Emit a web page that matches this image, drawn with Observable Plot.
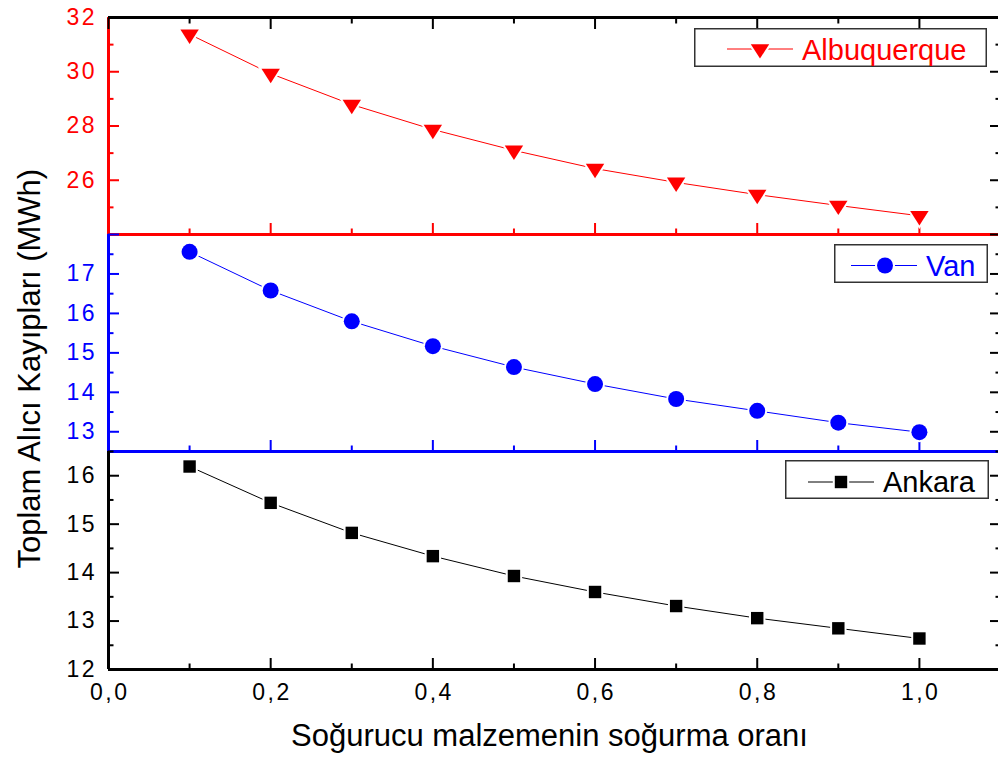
<!DOCTYPE html>
<html>
<head>
<meta charset="utf-8">
<script src="https://cdn.jsdelivr.net/npm/d3@7"></script>
<script src="https://cdn.jsdelivr.net/npm/@observablehq/plot@0.6"></script>
<style>
  html, body { margin: 0; padding: 0; background: #fff; }
  #chart { position: relative; width: 998px; height: 769px; font-family: "Liberation Sans", Arial, sans-serif; }
  #chart svg { position: absolute; left: 0; top: 0; overflow: visible; }
  /* slightly wider tick numerals */
  #chart g[aria-label="y-axis tick label"] text,
  #chart g[aria-label="x-axis tick label"] text { letter-spacing: 2.5px; }
</style>
</head>
<body>
<div id="chart"></div>
<script>
// Absorber absorption ratio (x) and total receiver losses in MWh per site
const ratio = [0.1, 0.2, 0.3, 0.4, 0.5, 0.6, 0.7, 0.8, 0.9, 1.0];
const albuquerque = [31.38, 29.93, 28.79, 27.87, 27.10, 26.43, 25.92, 25.47, 25.07, 24.69];
const van = [17.56, 16.58, 15.80, 15.17, 14.64, 14.21, 13.83, 13.53, 13.23, 12.99];
const ankara = [16.19, 15.44, 14.82, 14.34, 13.93, 13.60, 13.31, 13.06, 12.85, 12.64];

// Tick values
const xMajorTicks = [0, 0.2, 0.4, 0.6, 0.8, 1.0];
const xMinorTicks = [0.1, 0.3, 0.5, 0.7, 0.9];
const albuquerqueMajor = [24, 26, 28, 30, 32];
const albuquerqueLabels = [26, 28, 30, 32];
const albuquerqueMinor = [25, 27, 29, 31];
const vanMajor = [13, 14, 15, 16, 17, 18];
const vanLabels = [13, 14, 15, 16, 17];
const vanMinor = [12.5, 13.5, 14.5, 15.5, 16.5, 17.5];
const ankaraMajor = [12, 13, 14, 15, 16];
const ankaraLabels = [12, 13, 14, 15, 16];
const ankaraMinor = [12.5, 13.5, 14.5, 15.5, 16.5];

const xTitle = "Soğurucu malzemenin soğurma oranı";
const yTitle = "Toplam Alıcı Kayıpları (MWh)";

const W = 998, H = 769;
const FONT = '"Liberation Sans", Arial, sans-serif';

// Downward-pointing triangle, centred on its centroid
const triangleDown = {
  draw(context, size) {
    const r = Math.sqrt(size / Math.PI);
    const w = r * 1.15, h = r * 1.8;
    context.moveTo(-w, -h / 3);
    context.lineTo(w, -h / 3);
    context.lineTo(0, (2 * h) / 3);
    context.closePath();
  }
};

const panels = [
  {name: "Albuquerque", values: albuquerque, color: "#ff0000", domain: [24, 32], top: 17, bottom: 234,
   major: albuquerqueMajor, labels: albuquerqueLabels, minor: albuquerqueMinor,
   symbol: triangleDown, r: 8, topEdge: true,
   legend: {x: 694, y: 28, w: 293, h: 39, lineY: 21, seg: [33, 99], mark: 66, text: 108, base: 31.5}},
  {name: "Van", values: van, color: "#0000ff", domain: [12.5, 18], top: 234, bottom: 451,
   major: vanMajor, labels: vanLabels, minor: vanMinor,
   symbol: "circle", r: 8,
   legend: {x: 834, y: 244, w: 154, h: 39, lineY: 21.5, seg: [17, 83], mark: 51, text: 92, base: 32}},
  {name: "Ankara", values: ankara, color: "#000000", domain: [12, 16.5], top: 451, bottom: 669,
   major: ankaraMajor, labels: ankaraLabels, minor: ankaraMinor,
   symbol: "square", r: 7, xLabels: true,
   legend: {x: 785, y: 460, w: 204, h: 39, lineY: 22, seg: [23, 89], mark: 56, text: 98, base: 32}}
];

const commaFormat = d => d.toFixed(1).replace(".", ",");
const blank = () => "";
const chart = document.getElementById("chart");

function drawPanel(p) {
  const data = ratio.map((x, i) => ({x, v: p.values[i]}));
  const tickStyle = {label: null, strokeWidth: 2, tickFormat: blank};
  const marks = [
    // inward ticks along the lower edge
    Plot.axisX(xMajorTicks, {...tickStyle, anchor: "bottom", tickSize: -11, color: p.color}),
    Plot.axisX(xMinorTicks, {...tickStyle, anchor: "bottom", tickSize: -5.5, color: p.color}),
    // inward ticks along the left edge
    Plot.axisY(p.major, {...tickStyle, anchor: "left", tickSize: -11, color: p.color}),
    Plot.axisY(p.minor, {...tickStyle, anchor: "left", tickSize: -5.5, color: p.color}),
    Plot.axisY(p.labels, {anchor: "left", label: null, tickSize: 0, tickPadding: 11.5, fontSize: 23, color: p.color}),
    // inward ticks along the right edge
    Plot.axisY(p.major, {...tickStyle, anchor: "right", tickSize: -11, color: "black"}),
    Plot.axisY(p.minor, {...tickStyle, anchor: "right", tickSize: -5.5, color: "black"}),
    // axis lines
    Plot.ruleX([0], {stroke: p.color, strokeWidth: 3}),
    Plot.ruleY([p.domain[0]], {stroke: p.color, strokeWidth: 3})
  ];
  if (p.topEdge) {
    marks.push(
      Plot.ruleY([p.domain[1]], {stroke: "black", strokeWidth: 3}),
      Plot.axisX(xMajorTicks, {...tickStyle, anchor: "top", tickSize: -11, color: "black"}),
      Plot.axisX(xMinorTicks, {...tickStyle, anchor: "top", tickSize: -5.5, color: "black"})
    );
  }
  if (p.xLabels) {
    marks.push(Plot.axisX(xMajorTicks, {anchor: "bottom", label: null, tickSize: 0, tickPadding: 14, dx: 1.25, fontSize: 23, tickFormat: commaFormat}));
  }
  marks.push(
    Plot.line(data, {x: "x", y: "v", stroke: p.color, strokeWidth: 1}),
    Plot.dot(data, {x: "x", y: "v", symbol: p.symbol, r: p.r, fill: p.color, stroke: "white", strokeWidth: 4, paintOrder: "stroke"})
  );
  const svg = Plot.plot({
    width: W, height: H,
    marginLeft: 108, marginRight: -2, marginTop: p.top, marginBottom: H - p.bottom,
    x: {domain: [0, 1.1]},
    y: {domain: p.domain},
    style: {background: "transparent", overflow: "visible", fontFamily: FONT, fontSize: "23px"},
    marks
  });
  chart.appendChild(svg);
}

panels.forEach(drawPanel);

// Axis titles spanning all three panels
chart.appendChild(Plot.plot({
  width: W, height: H,
  marginLeft: 108, marginRight: -2, marginTop: 17, marginBottom: 100,
  style: {background: "transparent", overflow: "visible", fontFamily: FONT},
  marks: [
    Plot.text([xTitle], {text: d => d, frameAnchor: "bottom", dx: -5, dy: 76, fontSize: 31, fill: "black"}),
    Plot.text([yTitle], {text: d => d, frameAnchor: "left", rotate: -90, textAnchor: "start", dx: -78, dy: 225, fontSize: 31, fill: "black"})
  ]
}));

// Legend boxes, one per panel
panels.forEach(p => {
  const L = p.legend;
  const svg = d3.create("svg")
    .attr("width", L.w).attr("height", L.h)
    .style("left", `${L.x}px`).style("top", `${L.y}px`);
  svg.append("rect")
    .attr("x", 0.75).attr("y", 0.75).attr("width", L.w - 1.5).attr("height", L.h - 1.5)
    .attr("fill", "white").attr("stroke", "#333").attr("stroke-width", 1.5);
  svg.append("line")
    .attr("x1", L.seg[0]).attr("x2", L.seg[1]).attr("y1", L.lineY).attr("y2", L.lineY)
    .attr("stroke", p.color).attr("stroke-width", 1);
  const type = p.symbol === "circle" ? d3.symbolCircle : p.symbol === "square" ? d3.symbolSquare : p.symbol;
  svg.append("path")
    .attr("transform", `translate(${L.mark},${L.lineY})`)
    .attr("d", d3.symbol().type(type).size(Math.PI * p.r * p.r)())
    .attr("fill", p.color).attr("stroke", "white").attr("stroke-width", 4).attr("paint-order", "stroke");
  svg.append("text")
    .attr("x", L.text).attr("y", L.base)
    .attr("fill", p.color).attr("font-family", FONT).attr("font-size", 29)
    .text(p.name);
  chart.appendChild(svg.node());
});
</script>
</body>
</html>
